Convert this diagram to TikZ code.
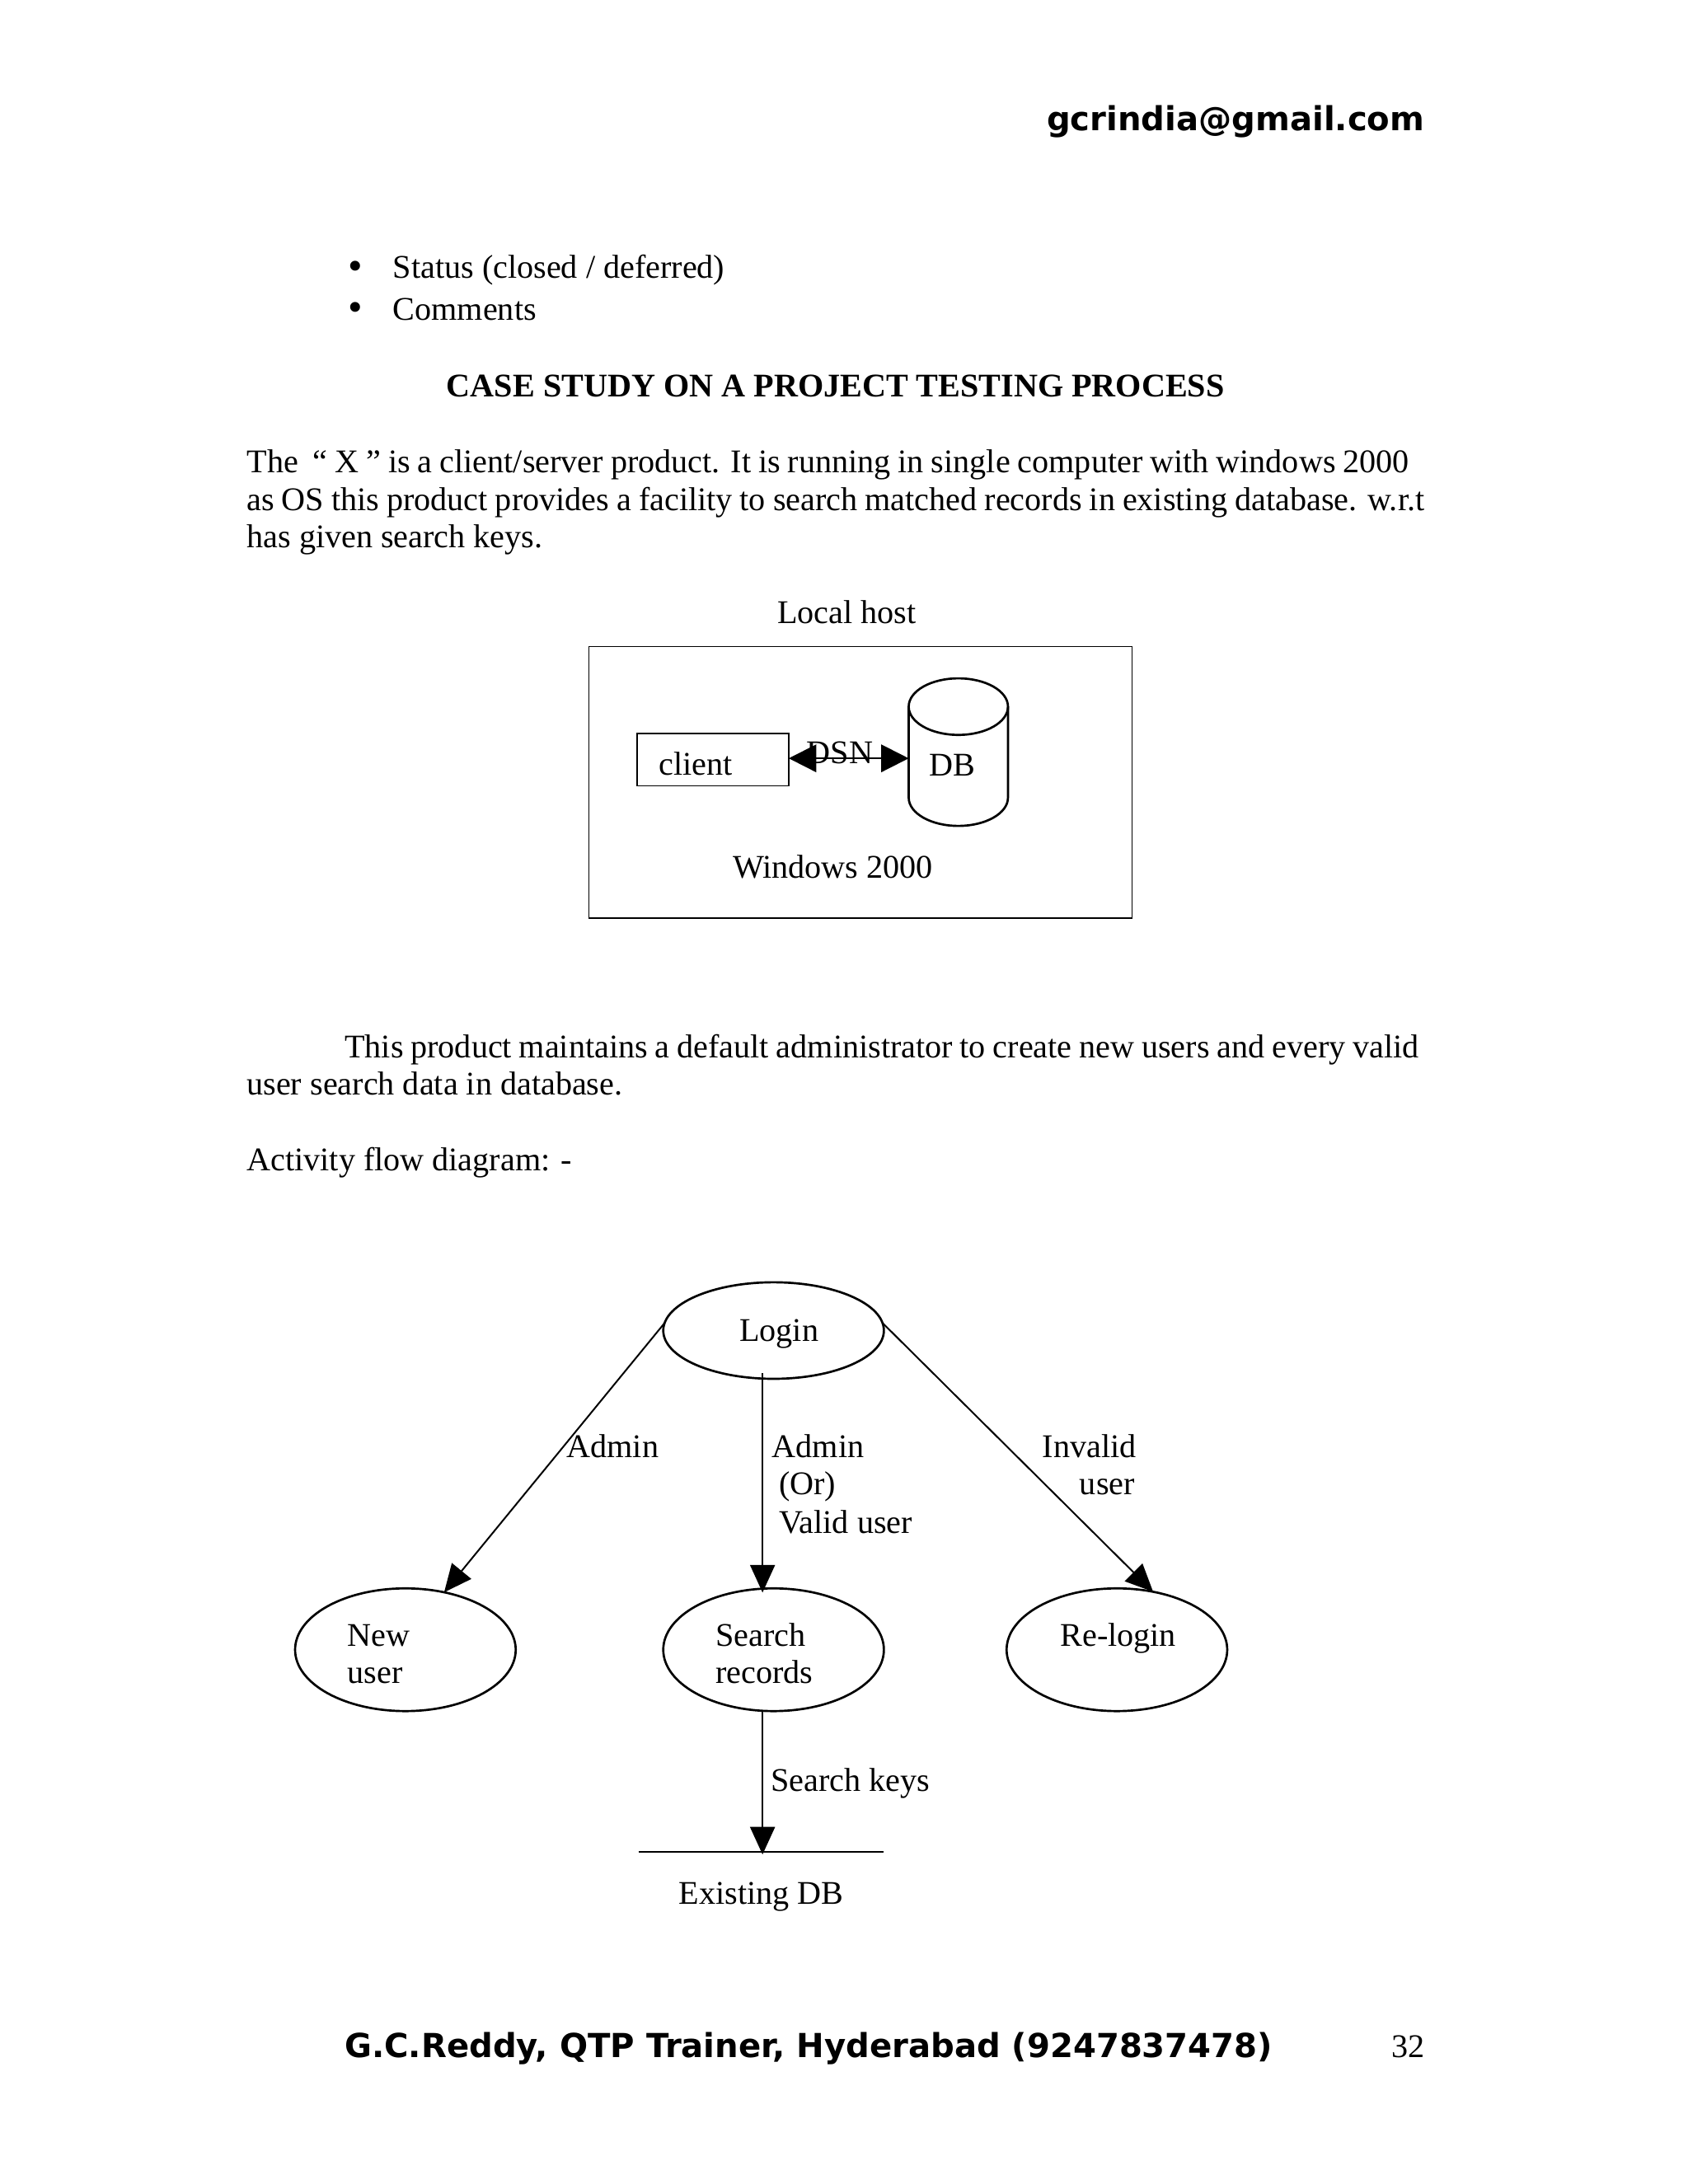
\documentclass[tikz,border=0pt]{standalone}
\usepackage{fontspec}
\setmainfont{Liberation Serif}
\newfontfamily\hdrfont{DejaVu Sans}
\usetikzlibrary{arrows.meta,calc,shapes.geometric}
\begin{document}
\begin{tikzpicture}[x=0.5pt,y=-0.5pt,
  txt/.style={inner sep=0pt, outer sep=0pt, font=\fontsize{12}{14}\selectfont},
  hdr/.style={inner sep=0pt, outer sep=0pt, font=\fontsize{12}{14}\selectfont\hdrfont\bfseries},
  boxn/.style={draw, line width=0.5pt, inner sep=0pt, outer sep=0pt},
  oval/.style={draw, ellipse, line width=0.8pt, inner sep=0pt, outer sep=0pt, minimum width=80pt},
  conn/.style={line width=0.6pt, -{Triangle[length=10pt,width=9pt]}},
  dconn/.style={line width=0.6pt, {Triangle[length=10pt,width=10pt]}-{Triangle[length=10pt,width=10pt]}}]
\useasboundingbox (0,0) rectangle (1224,1584);
\fill[white] (0,0) rectangle (1224,1584);

% header / footer
\node[hdr, anchor=base east] (mail) at (1033,95) {gcrindia@gmail.com};
\node[hdr, anchor=base west] (foot) at (250,1492) {G.C.Reddy, QTP Trainer, Hyderabad (9247837478)};
\node[txt, anchor=base east] (pg) at (1033,1492) {32};

% bullets
\node[txt, anchor=base, font=\fontsize{15}{15}\selectfont] (b1) at (258,203) {\textbullet};
\node[txt, anchor=base west] (s1) at (285,202) {Status (closed / deferred)};
\node[txt, anchor=base, font=\fontsize{15}{15}\selectfont] (b2) at (258,233) {\textbullet};
\node[txt, anchor=base west] (s2) at (285,232) {Comments};

% title
\node[txt, anchor=base, font=\fontsize{12}{14}\selectfont\bfseries] (title) at (606,288) {CASE STUDY ON A PROJECT TESTING PROCESS};

% paragraph 1
\node[txt, anchor=base west] (p1) at (179,343) {\makebox[421.5pt][s]{The \ “ X ” is a client/server product. It is running in single computer with windows 2000}};
\node[txt, anchor=base west] (p2) at (179,370) {\makebox[427pt][s]{as OS this product provides a facility to search matched records in existing database. w.r.t}};
\node[txt, anchor=base west] (p3) at (179,397) {has given search keys.};

% local host diagram
\node[txt, anchor=base] (lh) at (614,452) {Local host};
\node[boxn, minimum width=197pt, minimum height=98.5pt] (host) at (624,567.5) {};
\node[boxn, minimum width=55pt, minimum height=19pt] (client) at (517,551) {};
\node[txt, anchor=base west] (clientl) at (478,562) {client};
\node[inner sep=0pt, outer sep=0pt, minimum width=36pt, minimum height=53.5pt] (db) at (695,545.5) {};
\draw[line width=0.8pt] ([yshift=-10.25pt]db.north west) -- ([yshift=10.25pt]db.south west)
  arc[start angle=180, end angle=360, x radius=18pt, y radius=10.25pt]
  -- ([yshift=-10.25pt]db.north east);
\draw[line width=0.8pt] ([yshift=-10.25pt]db.north) ellipse [x radius=18pt, y radius=10.25pt];
\node[txt, anchor=base west] (dbl) at (674,563) {DB};
\draw[dconn] (client.east |- 0,550) -- (db.west |- 0,550);
\node[txt, anchor=base west] (dsn) at (585,554) {DSN};
\node[txt, anchor=base] (win) at (604,637) {Windows 2000};

% paragraph 2
\node[txt, anchor=base west] (q1) at (250,767) {\makebox[389.5pt][s]{This product maintains a default administrator to create new users and every valid}};
\node[txt, anchor=base west] (q2) at (179,794) {user search data in database.};
\node[txt, anchor=base west] (q3) at (179,849) {Activity flow diagram: -};

% activity flow
\node[oval, minimum height=35pt] (login) at (561,965) {};
\node[txt, anchor=base] (loginl) at (565,973) {Login};
\node[oval, minimum height=44.5pt] (nu) at (294,1196.5) {};
\node[txt, anchor=base west] (nul1) at (252,1194) {New};
\node[txt, anchor=base west] (nul2) at (252,1221) {user};
\node[oval, minimum height=44.5pt] (sr) at (561,1196.5) {};
\node[txt, anchor=base west] (srl1) at (519,1194) {Search};
\node[txt, anchor=base west] (srl2) at (519,1221) {records};
\node[oval, minimum height=44.5pt] (rl) at (810,1196.5) {};
\node[txt, anchor=base west] (rll) at (769,1194) {Re-login};

\draw[conn] (login.176) -- (nu.56);
\draw[conn] (login.4) -- (rl.58);
\draw[conn] ([xshift=-4pt,yshift=2pt]login.south) -- ([xshift=-4pt,yshift=-1.5pt]sr.north);

\node[txt, anchor=base west] (a1) at (411,1057) {Admin};
\node[txt, anchor=base west] (a2) at (560,1057) {Admin};
\node[txt, anchor=base west] (a3) at (565,1084) {(Or)};
\node[txt, anchor=base west] (a4) at (565,1112) {Valid user};
\node[txt, anchor=base west] (iv1) at (756,1057) {Invalid};
\node[txt, anchor=base east] (iv2) at (823,1084) {user};

\coordinate (dl) at (463,1343);
\coordinate (dr) at (641,1343);
\coordinate (dm) at (553,1345);
\draw[line width=0.6pt] (dl) -- (dr);
\draw[conn] ([xshift=-4pt]sr.south) -- (dm);
\node[txt, anchor=base west] (sk) at (559,1299) {Search keys};
\node[txt, anchor=base] (edb) at (552,1381) {Existing DB};
\end{tikzpicture}
\end{document}
